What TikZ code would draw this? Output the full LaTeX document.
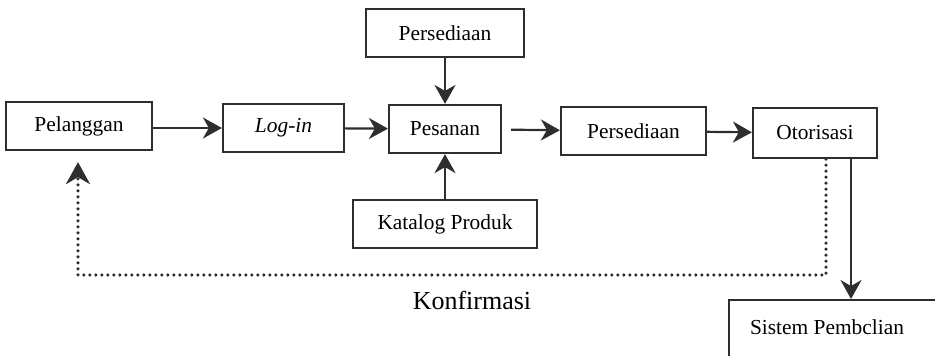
\documentclass[tikz,border=0pt]{standalone}
\usepackage{fontspec}
\setmainfont{Liberation Serif}
\usetikzlibrary{arrows.meta}
\definecolor{ink}{HTML}{2E2E2E}
\tikzset{
  kotak/.style={draw=ink,line width=1.1pt,minimum height=24pt,inner sep=0pt,
    font=\fontsize{10.7}{12}\selectfont},
  panah/.style={draw=ink,line width=1.1pt,-{Stealth[length=9.5pt,width=10.5pt,inset=3pt]}},
  titik/.style={draw=ink,line cap=round,line width=1.8pt,dash pattern=on 0pt off 3pt,
    -{Stealth[length=11pt,width=12pt,inset=3.5pt]}}
}
\begin{document}
\begin{tikzpicture}[x=0.5pt,y=-0.5pt]
  \useasboundingbox (0,0) rectangle (935,355);
  \clip (0,0) rectangle (935,355);

  \node[kotak,minimum width=73pt] (pelanggan) at (79,126) {Pelanggan};
  \node[kotak,minimum width=60.5pt] (login) at (283.5,128) {\itshape Log-in};
  \node[kotak,minimum width=56pt] (pesanan) at (445,129) {Pesanan};
  \node[kotak,minimum width=79pt] (stok) at (445,33) {Persediaan};
  \node[kotak,minimum width=92pt] (katalog) at (445,224) {Katalog Produk};
  \node[kotak,minimum width=72.5pt] (persediaan) at (633.5,131) {Persediaan};
  \node[kotak,minimum width=62pt,minimum height=25pt] (otorisasi) at (815,133) {Otorisasi};
  \node[kotak,anchor=north west,minimum width=130pt,minimum height=45pt] (sistem) at (728,299) {};
  \node[font=\fontsize{10.7}{12}\selectfont] (sistemteks) at (827,327) {Sistem Pembclian};
  \node[font=\fontsize{13}{15}\selectfont] (konfirmasi) at (472,300) {Konfirmasi};
  \coordinate (turun) at ([xshift=18pt]otorisasi.south);
  \coordinate (balik) at ([xshift=5.5pt]otorisasi.south);
  \coordinate (belok1) at (826,275);
  \coordinate (belok2) at (78,275);

  \draw[panah] (pelanggan.east |- login) -- (login);
  \draw[panah] (login) -- (pesanan);
  \draw[panah] (stok) -- (pesanan);
  \draw[panah] (katalog) -- (pesanan);
  \draw[panah,shorten <=4.5pt] (pesanan) -- (persediaan);
  \draw[panah] (persediaan) -- (otorisasi);
  \draw[panah] (turun) -- (sistem.north -| turun);
  \draw[titik,shorten >=5.5pt] (balik) -- (belok1) -- (belok2) -- (pelanggan.south -| belok2);
\end{tikzpicture}
\end{document}
